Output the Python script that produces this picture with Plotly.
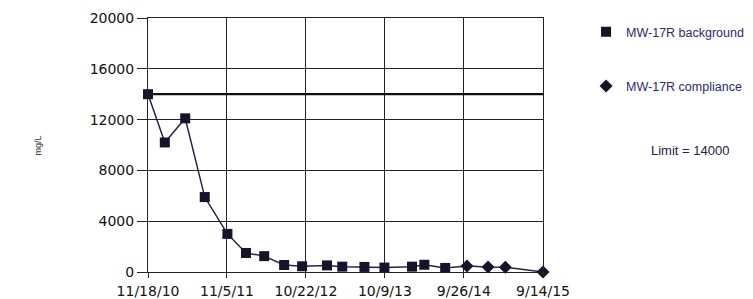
import plotly.graph_objects as go

# ---- data ----
bg_dates = ["2010-11-18", "2011-02-01", "2011-05-03", "2011-07-29", "2011-11-07",
            "2012-01-29", "2012-04-19", "2012-07-17", "2012-10-05", "2013-01-24",
            "2013-04-02", "2013-07-10", "2013-10-07", "2014-02-07", "2014-04-03",
            "2014-07-05"]
bg_values = [14000, 10200, 12100, 5900, 3000, 1500, 1250, 550, 450, 520,
             420, 400, 350, 420, 570, 320]
comp_dates = ["2014-10-10", "2015-01-12", "2015-03-30", "2015-09-14"]
comp_values = [480, 390, 380, 0]
limit_value = 14000
x_ticks = ["2010-11-18", "2011-11-05", "2012-10-22", "2013-10-09", "2014-09-26", "2015-09-14"]
x_tick_text = ["11/18/10", "11/5/11", "10/22/12", "10/9/13", "9/26/14", "9/14/15"]
y_ticks = [0, 4000, 8000, 12000, 16000, 20000]
y_tick_text = ["0", "4000", "8000", "12000", "16000", "20000"]

LINE = "#22224a"
MARK = "#14142a"
NAVY = "#2a2a6e"

fig = go.Figure()

# connecting line across both series
fig.add_trace(go.Scatter(x=bg_dates + comp_dates, y=bg_values + comp_values,
                         mode="lines", line=dict(color=LINE, width=1.5),
                         showlegend=False, hoverinfo="skip", cliponaxis=False))
# limit line
fig.add_trace(go.Scatter(x=[x_ticks[0], x_ticks[-1]], y=[limit_value, limit_value],
                         mode="lines", line=dict(color="#111111", width=2.2),
                         showlegend=False, hoverinfo="skip"))
fig.add_trace(go.Scatter(x=bg_dates, y=bg_values, mode="markers", name="MW-17R background",
                         legendgroup="a", cliponaxis=False,
                         marker=dict(symbol="square", size=10, color=MARK)))
fig.add_trace(go.Scatter(x=comp_dates, y=comp_values, mode="markers", name="MW-17R compliance",
                         legendgroup="b", cliponaxis=False,
                         marker=dict(symbol="diamond", size=10, color=MARK)))

fig.update_layout(
    width=745, height=291,
    margin=dict(l=140, r=210, t=10, b=27, autoexpand=False),
    paper_bgcolor="white", plot_bgcolor="white",
    font=dict(family="DejaVu Sans", color="#111111"),
    showlegend=True,
    legend=dict(x=1.109, y=1.003, xanchor="left", yanchor="top",
                font=dict(family="Liberation Sans", size=12.5, color=NAVY),
                tracegroupgap=35, traceorder="grouped",
                bgcolor="rgba(0,0,0,0)"),
    xaxis=dict(type="date", range=[x_ticks[0], x_ticks[-1]], automargin=False,
               tickvals=x_ticks, ticktext=x_tick_text,
               tickfont=dict(size=14, color="#111111"),
               showgrid=True, gridcolor="#222222", gridwidth=1,
               showline=True, linecolor="#222222", linewidth=1, mirror=True,
               ticks="outside", ticklen=5, tickcolor="#222222", ticklabelstandoff=1,
               zeroline=False),
    yaxis=dict(range=[0, 20000], tickvals=y_ticks, ticktext=y_tick_text, automargin=False,
               tickfont=dict(size=14, color="#111111"),
               showgrid=True, gridcolor="#222222", gridwidth=1,
               showline=True, linecolor="#222222", linewidth=1, mirror=True,
               ticks="outside", ticklen=10, tickcolor="#222222",
               zeroline=False),
    annotations=[
        dict(text="mg/L", x=-0.278, y=0.499, xref="paper", yref="paper",
             xanchor="center", yanchor="middle",
             textangle=-90, showarrow=False, font=dict(family="Liberation Sans", size=9, color="#333333")),
        dict(text="Limit = 14000", x=1.372, y=0.479, xref="paper", yref="paper",
             xanchor="center", yanchor="middle",
             showarrow=False, font=dict(family="Liberation Sans", size=13, color="#222244")),
    ],
)

fig.write_html("out.html")
